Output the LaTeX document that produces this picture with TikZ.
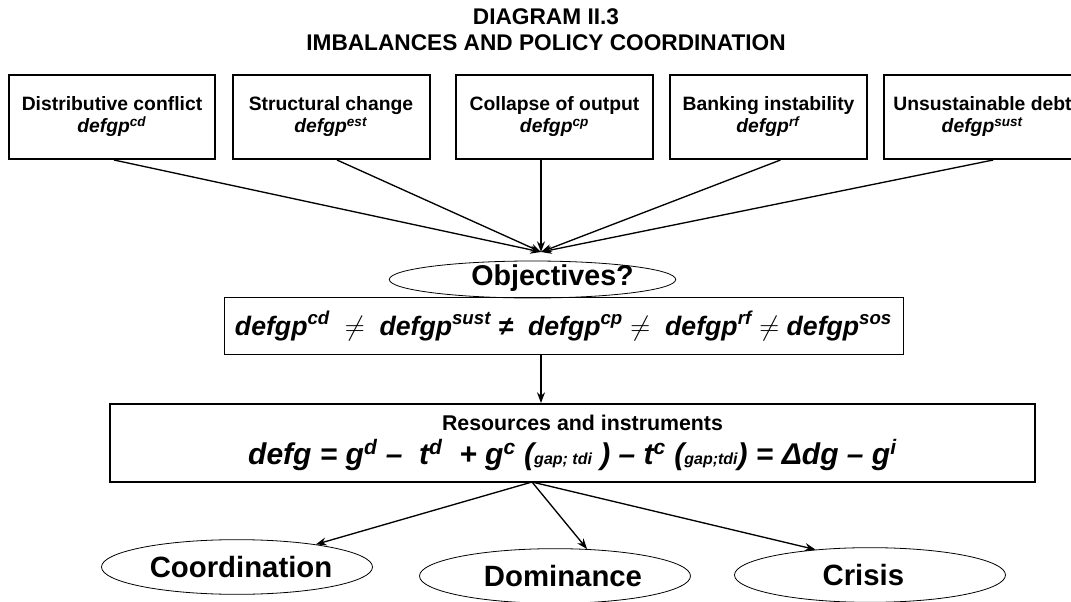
\documentclass[tikz,border=0pt]{standalone}
\usepackage{fontspec}
\setmainfont{Liberation Sans}
\usetikzlibrary{shapes.geometric,arrows.meta}

\newcommand{\dfg}[1]{\textbf{\textit{defgp}}\textsuperscript{\textbf{\textit{#1}}}}

\tikzset{
  topbox/.style={draw,line width=1.5pt,minimum width=147.75pt,minimum height=63pt,inner sep=0pt,align=center,font=\bfseries\fontsize{14.5}{16.5}\selectfont},
  goalell/.style={draw,ellipse,line width=0.6pt,inner sep=0pt,text height=11pt,text depth=2pt,font=\bfseries\fontsize{21.5}{24}\selectfont},
  outell/.style={draw,ellipse,line width=0.6pt,minimum width=203.25pt,minimum height=41pt,inner sep=0pt,font=\bfseries\fontsize{22}{24}\selectfont},
  arr/.style={-{Stealth[length=8pt,width=6pt]},line width=1pt},
}

\begin{document}
\begin{tikzpicture}[x=0.75pt,y=0.75pt,yscale=-1,xscale=1]
\useasboundingbox (0,0) rectangle (1071,602);
\clip (0,0) rectangle (1071,602);

\node (ttl) at (546,30) [align=center,font=\bfseries\fontsize{17}{19.5}\selectfont] {DIAGRAM II.3\\IMBALANCES AND POLICY COORDINATION};

\node [topbox,minimum width=154.5pt] (cd) at (112,117) {Distributive conflict\\\dfg{cd}};
\node [topbox] (est) at (331,117) {Structural change\\\dfg{est}};
\node [topbox] (cp) at (554.5,117) {Collapse of output\\\dfg{cp}};
\node [topbox] (rf) at (768.5,117) {Banking instability\\\dfg{rf}};
\node [topbox] (sust) at (982.5,117) {Unsustainable debt\\\dfg{sust}};

\coordinate (meet) at (541,252);
\draw [arr] ([xshift=1.5pt]cd.south) -- (meet);
\draw [arr] ([xshift=4.5pt]est.south) -- (meet);
\draw [arr] (cp.south -| meet) -- (meet);
\draw [arr] ([xshift=9pt]rf.south) -- (meet);
\draw [arr] ([xshift=8pt]sust.south) -- (meet);

\node [goalell,minimum width=209pt,minimum height=27.75pt] (goal) at (532.5,279.5) {\hspace*{30pt}Objectives?};

\node [draw,line width=0.75pt,minimum width=509.25pt,minimum height=42pt,inner sep=0pt,font=\bfseries\itshape\fontsize{20}{24}\selectfont] (neq) at (563.5,326) {\dfg{cd}\ \ $\neq$\ \ \dfg{sust} ≠\ \ \dfg{cp} $\neq$\ \ \dfg{rf} $\neq$ \dfg{sos}};

\node [draw,line width=1.5pt,minimum width=693.75pt,minimum height=58.5pt,inner sep=0pt,align=center,font=\bfseries\fontsize{16}{25}\selectfont] (res) at (572.5,443) {\hspace*{15pt}Resources and instruments\\{\itshape\fontsize{22.5}{25}\selectfont defg = g\textsuperscript{d} –\ \ t\textsuperscript{d}\ \ + g\textsuperscript{c} ({\fontsize{12}{12}\selectfont gap; tdi} ) – t\textsuperscript{c} ({\fontsize{12}{12}\selectfont gap;tdi}) = Δdg – g\textsuperscript{i}}};

\draw [arr] (neq.south -| meet) -- (res.north -| meet);

\coordinate (fork) at (532,482);
\node [outell] (coord) at (237,567) {\hspace*{6pt}Coordination};
\node [outell] (dom) at (555,576) {\hspace*{12pt}Dominance};
\node [outell] (cri) at (870,575) {Crisis\hspace*{10pt}};
\draw [arr] (fork) -- (coord.16);
\draw [arr] (fork) -- (dom.40);
\draw [arr] (fork) -- (cri.155);
\end{tikzpicture}
\end{document}
